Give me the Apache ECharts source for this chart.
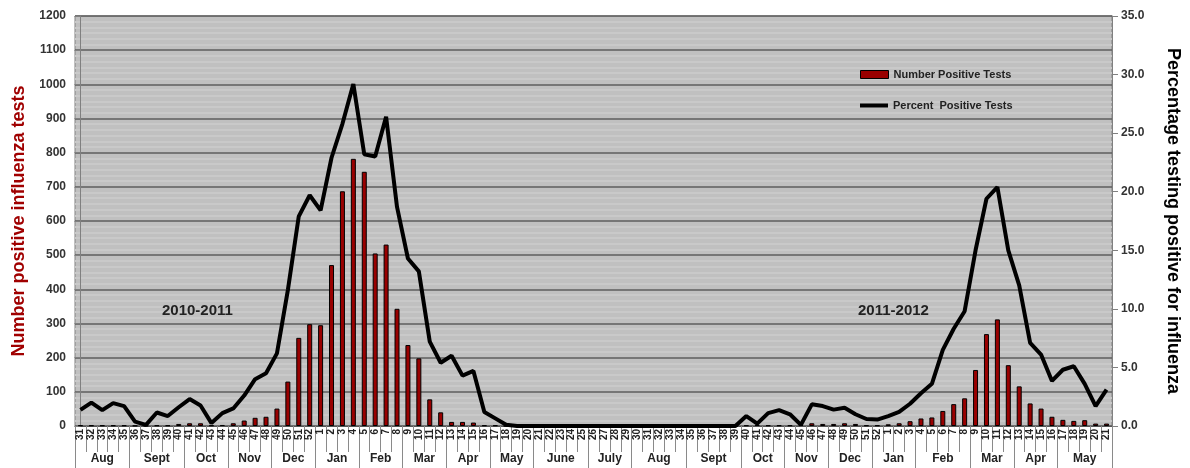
<!DOCTYPE html>
<html><head><meta charset="utf-8">
<script src="https://cdn.jsdelivr.net/npm/echarts@6/dist/echarts.min.js"></script>
<style>html,body{margin:0;padding:0;background:#fff}#c{width:1190px;height:468px}</style>
</head><body><div id="c"></div>
<script>
// Week numbers: 2010 wk31-52, 2011 wk1-52, 2012 wk1-21
const weeks = [
 '31','32','33','34','35','36','37','38','39','40','41','42','43','44','45','46','47','48','49','50','51','52',
 '1','2','3','4','5','6','7','8','9','10','11','12','13','14','15','16','17','18','19','20','21','22','23','24','25','26',
 '27','28','29','30','31','32','33','34','35','36','37','38','39','40','41','42','43','44','45','46','47','48','49','50','51','52',
 '1','2','3','4','5','6','7','8','9','10','11','12','13','14','15','16','17','18','19','20','21'
];
const months = ['Aug','Sept','Oct','Nov','Dec','Jan','Feb','Mar','Apr','May','June','July','Aug','Sept','Oct','Nov','Dec','Jan','Feb','Mar','Apr','May'];
const monthWeekCounts = [5,5,4,4,4,4,4,4,4,4,5,4,5,5,4,4,4,4,5,4,4,5];
const positiveTests = [
 2,2,2,2,2,1,1,2,2,6,8,8,2,3,8,16,24,27,51,130,258,298,
 295,471,687,782,744,505,531,343,237,198,78,40,12,12,10,2,2,0,0,0,0,0,0,0,0,0,
 0,0,0,0,0,0,0,0,0,0,0,0,0,2,3,2,2,2,3,8,6,6,8,6,2,2,
 5,8,14,22,25,44,64,81,164,269,312,178,116,66,51,27,18,15,17,7,7
];
const percentPositive = [
 1.37,2.0,1.35,1.95,1.7,0.37,0.1,1.15,0.85,1.6,2.3,1.75,0.25,1.1,1.5,2.6,4.0,4.5,6.2,11.6,17.9,19.7,
 18.4,22.9,25.8,29.2,23.2,23.0,26.4,18.7,14.3,13.2,7.2,5.4,6.0,4.3,4.7,1.2,0.65,0.1,0,0,0,0,0,0,0,0,
 0,0,0,0,0,0,0,0,0,0,0,0,0,0.85,0.2,1.1,1.35,1.0,0.1,1.85,1.7,1.4,1.55,1.0,0.6,0.55,
 0.85,1.2,1.9,2.8,3.6,6.5,8.3,9.8,15.0,19.4,20.4,15.0,12.0,7.1,6.1,3.85,4.8,5.1,3.6,1.7,3.1
];

const font = '"Liberation Sans", Arial, sans-serif';
const bounds = [-0.5], centers = [];
let s = 0;
monthWeekCounts.forEach(n => { centers.push(s + (n - 1) / 2); s += n; bounds.push(s - 0.5); });

const legendText = {fontFamily: font, fontSize: 11, fontWeight: 'bold', color: '#222'};
const chart = echarts.init(document.getElementById('c'), null, {renderer: 'canvas'});
chart.setOption({
  animation: false,
  backgroundColor: '#ffffff',
  textStyle: {fontFamily: font},
  title: [
    {text: '2010-2011', left: 157, top: 298, textStyle: {fontFamily: font, fontSize: 15, fontWeight: 'bold', color: '#222'}},
    {text: '2011-2012', left: 853, top: 298, textStyle: {fontFamily: font, fontSize: 15, fontWeight: 'bold', color: '#222'}}
  ],
  legend: [
    {
      left: 855, top: 64, itemWidth: 28, itemHeight: 8, icon: 'rect',
      itemStyle: {borderColor: '#000', borderWidth: 1},
      textStyle: legendText,
      data: ['Number Positive Tests']
    },
    {
      left: 855, top: 95, itemWidth: 28, itemHeight: 4, icon: 'rect',
      itemStyle: {color: '#000'},
      textStyle: legendText,
      data: ['Percent  Positive Tests']
    }
  ],
  grid: {left: 75, right: 77, top: 16, bottom: 42, show: true, backgroundColor: '#c0c0c0', borderColor: '#808080', borderWidth: 1},
  xAxis: [
    {
      type: 'category', data: weeks, boundaryGap: true,
      axisLine: {lineStyle: {color: '#555', width: 1}},
      axisTick: {show: true, length: 26, lineStyle: {color: '#8a8a8a'}},
      axisLabel: {rotate: 90, interval: 0, fontSize: 10, fontWeight: 'bold', color: '#222', margin: 3, fontFamily: font}
    },
    {
      type: 'value', min: -0.5, max: 94.5, position: 'bottom',
      axisLine: {show: false}, splitLine: {show: false},
      axisTick: {show: true, length: 42, customValues: bounds, lineStyle: {color: '#8a8a8a'}},
      axisLabel: {
        customValues: centers, margin: 27, fontSize: 12, fontWeight: 'bold', color: '#222', fontFamily: font,
        formatter: v => { const k = centers.findIndex(c => Math.abs(c - v) < 0.01); return k >= 0 ? months[k] : ''; }
      }
    }
  ],
  yAxis: [
    {
      type: 'value', min: 0, max: 1200, interval: 100,
      name: 'Number positive influenza tests', nameLocation: 'middle', nameGap: 46, nameRotate: 90,
      nameTextStyle: {color: '#a00000', fontSize: 18, fontWeight: 'bold', fontFamily: font},
      axisLine: {show: true, lineStyle: {color: '#808080'}},
      axisTick: {show: true, length: 6, lineStyle: {color: '#808080'}},
      axisLabel: {fontSize: 12, fontWeight: 'bold', color: '#333', margin: 9, fontFamily: font, formatter: v => String(v)},
      splitLine: {lineStyle: {color: '#5e5e5e', width: 1.5}},
      minorTick: {show: false, splitNumber: 6},
      minorSplitLine: {show: true, lineStyle: {color: '#c9c9c9', width: 2}}
    },
    {
      type: 'value', min: 0, max: 35, interval: 5, position: 'right',
      name: 'Percentage testing positive for influenza', nameLocation: 'middle', nameGap: 52, nameRotate: -90,
      nameTextStyle: {color: '#000', fontSize: 18, fontWeight: 'bold', fontFamily: font},
      axisLine: {show: true, lineStyle: {color: '#808080'}},
      axisTick: {show: true, length: 6, lineStyle: {color: '#808080'}},
      axisLabel: {fontSize: 12, fontWeight: 'bold', color: '#333', margin: 9, fontFamily: font, formatter: v => v.toFixed(1)},
      splitLine: {show: false}
    }
  ],
  series: [
    {
      type: 'bar', name: 'Number Positive Tests', data: positiveTests, barWidth: 5,
      itemStyle: {color: '#990000', borderColor: '#000', borderWidth: 1}
    },
    {
      type: 'line', name: 'Percent  Positive Tests', yAxisIndex: 1, data: percentPositive,
      symbol: 'none', lineStyle: {color: '#000', width: 4}, itemStyle: {color: '#000'}, z: 3
    }
  ]
});
</script>
</body></html>
